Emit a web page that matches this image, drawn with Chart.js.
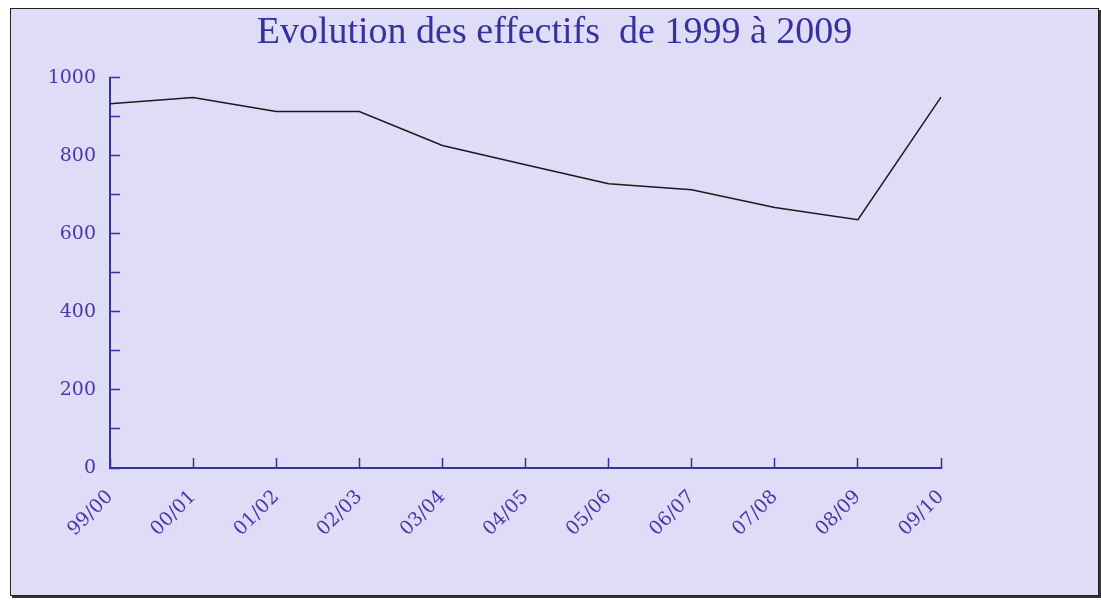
<!DOCTYPE html>
<html>
<head>
<meta charset="utf-8">
<script src="https://cdn.jsdelivr.net/npm/chart.js@4"></script>
<style>
    body { margin: 0; background: #ffffff; }
    #cadre {
        position: absolute;
        left: 10px;
        top: 8px;
        width: 1087px;
        height: 586px;
        background: #dedcf7;
        border: 1px solid #222;
        box-shadow: 2px 2px 0 #333;
    }
</style>
</head>
<body>
<div id="cadre"><canvas id="effectifsChart"></canvas></div>
<script>
// Données
const annees = ['99/00', '00/01', '01/02', '02/03', '03/04', '04/05', '05/06', '06/07', '07/08', '08/09', '09/10'];
const effectifs = [933, 949, 913, 913, 826, 777, 728, 713, 667, 636, 950];
const graduationsY = [0, 200, 400, 600, 800, 1000];

const bleu = '#3a2f9e';

document.addEventListener('DOMContentLoaded', function() {
    const ctx = document.getElementById('effectifsChart').getContext('2d');
    new Chart(ctx, {
        type: 'line',
        data: {
            labels: annees,
            datasets: [{
                label: 'Effectifs',
                data: effectifs,
                borderColor: '#1a1a1a',
                borderWidth: 1.5,
                pointRadius: 0,
                tension: 0,
                fill: false
            }]
        },
        options: {
            responsive: true,
            maintainAspectRatio: false,
            animation: false,
            layout: {
                padding: 0
            },
            plugins: {
                legend: { display: false },
                tooltip: { enabled: false },
                title: {
                    display: true,
                    text: 'Evolution des effectifs  de 1999 à 2009',
                    color: bleu,
                    font: { family: 'Liberation Serif', size: 38, weight: 'normal' },
                    padding: { top: 1, bottom: 22 }
                }
            },
            scales: {
                x: {
                    offset: false,
                    border: { color: bleu, width: 2 },
                    grid: {
                        drawOnChartArea: false,
                        tickLength: -10,
                        tickColor: bleu,
                        tickWidth: 1.5
                    },
                    ticks: {
                        color: '#4638a8',
                        font: { family: 'DejaVu Serif', size: 19 },
                        minRotation: 45,
                        maxRotation: 45,
                        padding: 28
                    },
                    afterFit: s => { s.height = 127; }
                },
                y: {
                    min: 0,
                    max: 1000,
                    border: { color: bleu, width: 2 },
                    grid: {
                        drawOnChartArea: false,
                        tickLength: -10,
                        tickColor: bleu,
                        tickWidth: 1.5
                    },
                    ticks: {
                        stepSize: 100,
                        color: '#4638a8',
                        font: { family: 'DejaVu Serif', size: 19 },
                        padding: 24,
                        callback: v => graduationsY.includes(v) ? v : ''
                    },
                    afterFit: s => { s.width = 99; }
                },
                // axe vide à droite pour garder la marge sans décentrer le titre
                marge: {
                    position: 'right',
                    display: true,
                    border: { display: false },
                    grid: { display: false },
                    ticks: { display: false },
                    afterFit: s => { s.width = 157; }
                }
            }
        }
    });
});
</script>
</body>
</html>
